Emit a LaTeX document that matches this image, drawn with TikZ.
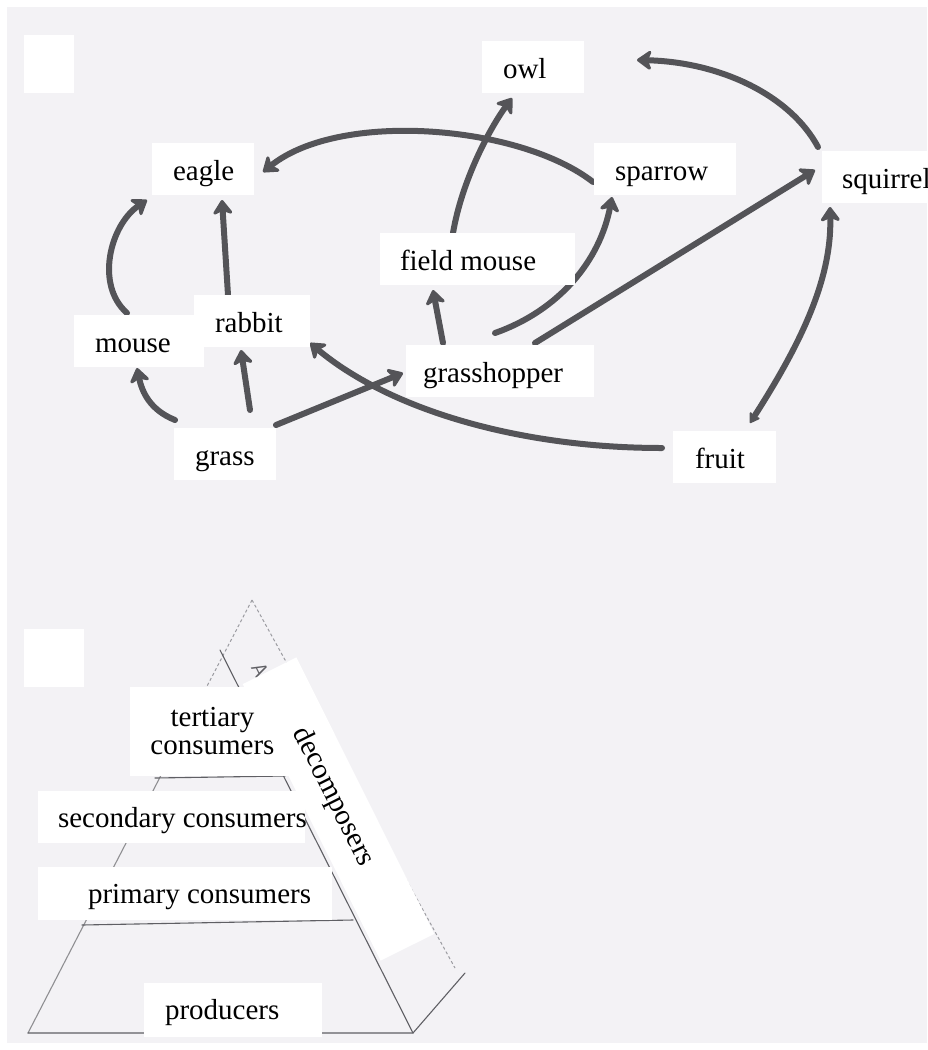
\documentclass[tikz,border=0pt]{standalone}
\usepackage{fontspec}
\setmainfont{Liberation Serif}
\usetikzlibrary{arrows.meta,calc}

\pgfdeclarelayer{paper}
\pgfdeclarelayer{ink}
\pgfsetlayers{paper,ink,main}

\definecolor{paperbg}{RGB}{243,242,245}
\definecolor{markerc}{RGB}{84,84,88}
\definecolor{pencilc}{RGB}{95,95,100}
\definecolor{faintc}{RGB}{155,155,160}

% left-padded label of fixed width: pad, width, text
\newcommand\boxtext[3]{\hbox to #2pt{\hskip #1pt\relax #3\hss}}

\tikzset{
  labelfont/.style={font=\fontsize{29}{28}\selectfont},
  blank/.style={fill=white, draw=none, inner sep=0pt},
  organism/.style={blank, labelfont, text height=37pt, text depth=15pt},
  level/.style={blank, labelfont, text height=36pt},
  feeds/.style={draw=markerc, line width=6pt, line cap=round,
    -{Stealth[length=17pt,width=24pt,inset=5pt,round]}},
  pencil line/.style={draw=pencilc, line width=1.1pt, line cap=round},
  faint line/.style={draw=faintc, line width=1pt, dash pattern=on 3pt off 2.5pt}
}

\begin{document}
\begin{tikzpicture}[x=1pt,y=-1pt]
\useasboundingbox (0,0) rectangle (927,1050);
\begin{pgfonlayer}{paper}
  \fill[white] (0,0) rectangle (927,1050);
  \fill[paperbg] (7,7) rectangle (927,1043);
\end{pgfonlayer}
\clip (0,0) rectangle (927,1050);

% empty tags
\node[blank, minimum width=50pt, minimum height=58pt] (tagA) at (49,64) {};
\node[blank, minimum width=60pt, minimum height=58pt] (tagB) at (54,658) {};

% ---------- food web ----------
\node[organism] (owl)         at (533,67)    {\boxtext{21}{102}{owl}};
\node[organism] (eagle)       at (203,169)   {\boxtext{21}{102}{eagle}};
\node[organism] (sparrow)     at (665,169)   {\boxtext{21}{142}{sparrow}};
\node[organism] (squirrel)    at (892,177)   {\boxtext{20}{140}{squirrel}};
\node[organism] (fieldmouse)  at (477.5,259) {\boxtext{20}{195}{field mouse}};
\node[organism] (mouse)       at (139,341)   {\boxtext{21}{130}{mouse}};
\node[organism] (rabbit)      at (252,321)   {\boxtext{21}{116}{rabbit}};
\node[organism] (grasshopper) at (500,371)   {\boxtext{17}{188}{grasshopper}};
\node[organism] (grass)       at (225,454)   {\boxtext{21}{102}{grass}};
\node[organism] (fruit)       at (724.5,457) {\boxtext{22}{103}{fruit}};

% ---------- pyramid ----------
\node[blank, labelfont, align=center, text width=165pt, minimum height=89pt] (tertiary)
  at (212.5,731.5) {tertiary\\consumers};
\node[level, text depth=16pt] (secondary) at (171.5,817) {\boxtext{20}{267}{secondary consumers}};
\node[level, text depth=17pt] (primary)   at (185,893.5) {\boxtext{50}{294}{primary consumers}};
\node[level, text depth=18pt] (producers) at (233,1010)  {\boxtext{21}{178}{producers}};
\node[blank, minimum width=309pt, minimum height=60pt, rotate=-63.5] (decomp) at (338.5,809) {};
\node[labelfont, inner sep=0pt, rotate=-63.5] (decomptext) at (333,797) {decomposers};

\begin{pgfonlayer}{ink}
  % pyramid outline in pencil
  \draw[faint line] (252,600) -- (205,690);
  \draw[faint line] (252,600) -- (455,968);
  \draw[pencil line, draw=pencilc!70] (205,690) -- (28,1033);
  \draw[pencil line] (220,650) -- (413,1033);
  \draw[pencil line] (28,1033) -- (413,1033) -- (465,973);
  \draw[pencil line] (82,925) -- (353,920);
  \draw[pencil line] (155,778) -- (285,776);
  \node[text=pencilc, font=\sffamily\fontsize{21}{21}\selectfont, inner sep=0pt, rotate=-63.5]
    (mark) at (260,670) {A};

  % who eats whom
  \draw[feeds] ($(mouse.center)+(-12,-28)$) .. controls +(-32,-28) and +(-37,25) .. ($(eagle.center)+(-56,31)$);
  \draw[feeds] ($(rabbit.center)+(-24,-26)$) -- ($(eagle.center)+(19,31)$);
  \draw[feeds] ($(grass.center)+(-50,-34)$) .. controls +(-25,-10) and +(5,24) .. ($(mouse.center)+(-2,27)$);
  \draw[feeds] ($(grass.center)+(25,-44)$) -- ($(rabbit.center)+(-11,29)$);
  \draw[feeds] ($(grass.center)+(51,-29)$) -- ($(grasshopper.center)+(-97,2)$);
  \draw[feeds] ($(fruit.center)+(-62.5,-9)$) .. controls +(-142,0) and +(80,67) .. ($(rabbit.center)+(58,22)$);
  \draw[feeds] ($(grasshopper.center)+(-57,-28)$) -- ($(fieldmouse.center)+(-44.5,31)$);
  \draw[feeds] ($(fieldmouse.center)+(-24.5,-26)$) .. controls +(9,-53) and +(-22,30) .. ($(owl.center)+(-21,31)$);
  \draw[feeds] ($(sparrow.center)+(-72,13)$) .. controls +(-73,-57) and +(77,-62) .. ($(eagle.center)+(60,3)$);
  \draw[feeds] ($(squirrel.center)+(-74,-30)$) .. controls +(-28,-52) and +(83,2) .. ($(owl.center)+(104,-7)$);
  \draw[feeds] ($(grasshopper.center)+(-5,-38)$) .. controls +(65,-23) and +(-12,63) .. ($(sparrow.center)+(-53,28)$);
  \draw[feeds] ($(grasshopper.center)+(35,-28)$) -- ($(squirrel.center)+(-77,-7)$);
  \draw[feeds, {Stealth[length=12pt,width=15pt,round]}-{Stealth[length=17pt,width=24pt,inset=5pt,round]}]
    ($(fruit.center)+(25.5,-34)$) .. controls +(50,-78) and +(2,73) .. ($(squirrel.center)+(-62,30)$);
\end{pgfonlayer}
\end{tikzpicture}
\end{document}
